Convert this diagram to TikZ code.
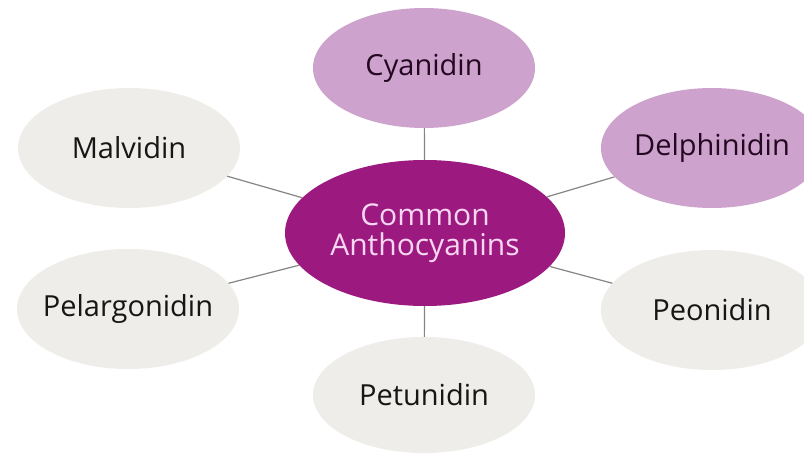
\documentclass[tikz,border=0pt]{standalone}
\usepackage{fontspec}
\setmainfont{Open Sans}
\usetikzlibrary{shapes.geometric}
\definecolor{hub}{HTML}{9C1A80}
\definecolor{lilac}{HTML}{CDA2CD}
\definecolor{stone}{HTML}{EFEDE9}
\definecolor{ink}{HTML}{161616}
\definecolor{plum}{HTML}{240822}
\definecolor{hubtext}{HTML}{F7D6F2}
\definecolor{wire}{HTML}{858585}
\newcommand{\snug}[1]{\makebox[0pt]{#1}}
\tikzset{
  blob/.style={ellipse, inner sep=0pt, minimum width=222pt, minimum height=120pt,
    font=\fontsize{29}{31}\selectfont, text=ink},
  greyblob/.style={blob, fill=stone},
  lilacblob/.style={blob, fill=lilac, text=plum},
  hubblob/.style={ellipse, inner sep=0pt, minimum width=280pt, minimum height=146pt,
    fill=hub, text=hubtext, align=center, font=\fontsize{30}{30}\selectfont},
  wireline/.style={draw=wire, line width=1.2pt}
}
\begin{document}
\begin{tikzpicture}[x=1pt,y=-1pt]
\clip (0,0) rectangle (804,462);
\fill[white] (0,0) rectangle (804,462);
\node[hubblob] (hub) at (425,233) {\snug{Common}\\\snug{Anthocyanins}};
\node[lilacblob] (cya) at (424,68) {\snug{Cyanidin}};
\node[lilacblob] (del) at (712,148) {\snug{Delphinidin}};
\node[greyblob] (mal) at (129,148) {\snug{Malvidin}};
\node[greyblob] (pel) at (128,309) {\snug{Pelargonidin}};
\node[greyblob] (peo) at (712,310) {\snug{Peonidin}};
\node[greyblob, minimum height=116pt] (pet) at (424,395) {\snug{Petunidin}};
\draw[wireline] (hub) -- (cya);
\draw[wireline] (hub) -- (del);
\draw[wireline] (hub) -- (mal);
\draw[wireline] (hub) -- (pel);
\draw[wireline] (hub) -- (peo);
\draw[wireline] (hub) -- (pet);
\end{tikzpicture}
\end{document}
